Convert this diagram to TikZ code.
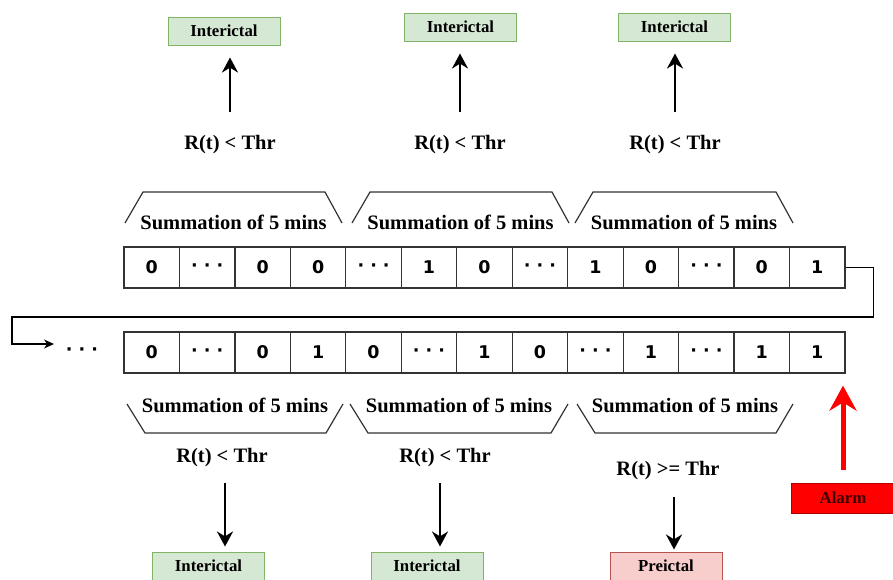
\documentclass[tikz,border=0pt]{standalone}
\usepackage{fontspec}
\setmainfont{Liberation Serif}
\newfontfamily\cellfont{DejaVu Sans}
\usetikzlibrary{arrows.meta,calc}

\definecolor{intfill}{HTML}{D5E8D4}
\definecolor{intdraw}{HTML}{82B366}
\definecolor{prefill}{HTML}{F8CECC}
\definecolor{predraw}{HTML}{B85450}
\definecolor{alarmdraw}{HTML}{B20000}
\definecolor{alarmtext}{HTML}{3A0000}
\definecolor{gridline}{HTML}{333333}

\begin{document}
\begin{tikzpicture}[x=1pt, y=-1pt, >={Stealth[length=15pt,width=16pt]},
  cell/.style={draw=gridline, line width=1.2pt, minimum width=55.46pt, minimum height=41pt,
    inner sep=0pt, font=\cellfont\bfseries\fontsize{17.5}{20}\selectfont},
  sumlabel/.style={font=\bfseries\fontsize{20.5}{24}\selectfont, inner sep=0pt},
  cond/.style={font=\bfseries\fontsize{20.5}{24}\selectfont, inner sep=0pt},
  statebox/.style={draw, line width=1pt, minimum width=112pt, minimum height=28pt,
    inner sep=0pt, font=\bfseries\fontsize{16.8}{20}\selectfont},
  interbox/.style={statebox, fill=intfill, draw=intdraw},
  prebox/.style={statebox, fill=prefill, draw=predraw},
  alarmbox/.style={statebox, fill=red, draw=alarmdraw, text=alarmtext, minimum width=104pt, minimum height=30pt},
  arr/.style={->, line width=2.4pt},
  brace/.style={line width=1.2pt, draw=gridline}]

\useasboundingbox (0,0) rectangle (893,579);

\def\dd{· · ·}

% 两行窗口
\foreach \v [count=\i] in {0,\dd,0,0,\dd,1,0,\dd,1,0,\dd,0,1}
  \node[cell] (t\i) at ({124+(\i-0.5)*55.46},267.5) {\v};
\foreach \v [count=\i] in {0,\dd,0,1,0,\dd,1,0,\dd,1,\dd,1,1}
  \node[cell] (b\i) at ({124+(\i-0.5)*55.46},352.5) {\v};
\node[font=\cellfont\bfseries\fontsize{17.5}{20}\selectfont] (bdots) at (82,352) {\dd};

% 换行连接线
\coordinate (entry) at (54,344);
\draw[->, line width=1.2pt, >={Stealth[length=10pt,width=9pt]}] (t13.east) -- ++(28,0) |- (12,317) |- (entry);

% 上方求和括号
\foreach \a/\b [count=\k] in {125/342, 352/569, 575/793} {
  \draw[brace] (\a,223) -- (\a+18,192) -- (\b-17,192) -- (\b,223);
  \node[sumlabel] (st\k) at ({(\a+\b)/2},222) {Summation of 5 mins};
}
% 下方求和括号
\foreach \a/\b [count=\k] in {127/343, 350/568, 577/793} {
  \draw[brace] (\a,404) -- (\a+18,433) -- (\b-17,433) -- (\b,404);
  \node[sumlabel] (sb\k) at ({(\a+\b)/2},405) {Summation of 5 mins};
}

% 上方判定与状态
\node[cond] (c1) at (230,145) {R(t) < Thr};
\node[cond] (c2) at (460,145) {R(t) < Thr};
\node[cond] (c3) at (675,145) {R(t) < Thr};
\node[interbox] (i1) at (224,31) {Interictal};
\node[interbox] (i2) at (460.5,27) {Interictal};
\node[interbox] (i3) at (674.5,27) {Interictal};
\foreach \k in {1,2,3}
  \draw[arr, shorten <=33pt, shorten >=12pt] (c\k.center) -- (c\k.center |- i\k.south);

% 下方判定与状态
\node[cond] (c4) at (222,458) {R(t) < Thr};
\node[cond] (c5) at (445,458) {R(t) < Thr};
\node[cond] (c6) at (668,471) {R(t) >= Thr};
\node[interbox] (i4) at (208.5,566) {Interictal};
\node[interbox] (i5) at (427,566) {Interictal};
\node[prebox] (p1) at (666,566) {Preictal};
\draw[arr, shorten <=25pt, shorten >=5pt] ($(c4.center)+(3,0)$) -- ($(c4.center |- i4.north)+(3,0)$);
\draw[arr, shorten <=25pt, shorten >=5pt] ($(c5.center)+(-5,0)$) -- ($(c5.center |- i5.north)+(-5,0)$);
\draw[arr, shorten <=26pt, shorten >=2pt] ($(c6.center)+(6,0)$) -- ($(c6.center |- p1.north)+(6,0)$);

% 报警
\node[alarmbox] (a1) at (843,498) {Alarm};
\draw[->, red, line width=5pt, >={Stealth[length=25pt,width=27pt]}, shorten <=13pt, shorten >=12pt]
  (a1.north) -- (a1.north |- b13.south);

\end{tikzpicture}
\end{document}
